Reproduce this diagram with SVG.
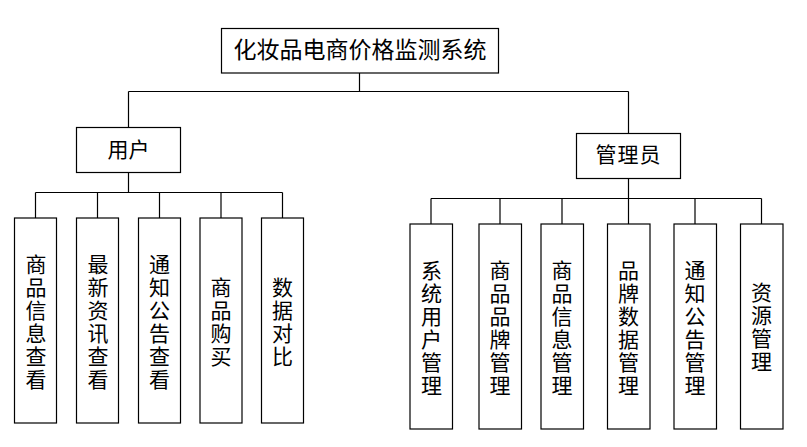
<svg xmlns="http://www.w3.org/2000/svg" width="807" height="447" viewBox="0 0 807 447">
<style>
.box{fill:#fff;stroke:#000;stroke-width:1.2}
.ln{fill:none;stroke:#000;stroke-width:1.2}
.t{font-family:"Noto Sans CJK SC","Noto Sans",sans-serif;fill:#000;text-anchor:middle}
.v{font-size:21px;writing-mode:vertical-rl;letter-spacing:2px}
</style>
<rect width="807" height="447" fill="#fff"/>
<g id="connectors">
<path class="ln" d="M359.5 73V91.5M128.5 91.5H628.5M128.5 91.5V127.5M628.5 91.5V133.5"/>
<path class="ln" d="M128.5 172.5V192.5M35.5 192.5H282.5M35.5 192.5V218M97.5 192.5V218M159.5 192.5V218M221 192.5V218M282.5 192.5V218"/>
<path class="ln" d="M628.5 178.5V198.5M431 198.5H761.5M431 198.5V224M500 198.5V224M562 198.5V224M628.5 198.5V224M695 198.5V224M761.5 198.5V224"/>
</g>
<g id="root"><rect class="box" x="221.5" y="28.5" width="277" height="44.5"/><text class="t" x="360" y="57.5" font-size="23">化妆品电商价格监测系统</text></g>
<g id="user"><rect class="box" x="76.5" y="127.5" width="104" height="45"/><text class="t" x="128.5" y="157" font-size="21">用户</text></g>
<g id="admin"><rect class="box" x="576.5" y="133.5" width="104" height="45"/><text class="t" x="628.5" y="162" font-size="21" letter-spacing="1">管理员</text></g>
<g id="u1"><rect class="box" x="14.5" y="218" width="42" height="205"/><text class="t v" x="36" y="322.5">商品信息查看</text></g>
<g id="u2"><rect class="box" x="76.5" y="218" width="42" height="205"/><text class="t v" x="98" y="322.5">最新资讯查看</text></g>
<g id="u3"><rect class="box" x="138.5" y="218" width="42" height="205"/><text class="t v" x="159.5" y="322.5">通知公告查看</text></g>
<g id="u4"><rect class="box" x="200" y="218" width="42" height="205"/><text class="t v" x="221" y="322.5">商品购买</text></g>
<g id="u5"><rect class="box" x="261.5" y="218" width="42" height="205"/><text class="t v" x="282.5" y="322.5">数据对比</text></g>
<g id="a1"><rect class="box" x="410" y="224" width="42.5" height="205"/><text class="t v" x="431.5" y="328.5">系统用户管理</text></g>
<g id="a2"><rect class="box" x="479" y="224" width="42.5" height="205"/><text class="t v" x="500" y="328.5">商品品牌管理</text></g>
<g id="a3"><rect class="box" x="541" y="224" width="42.5" height="205"/><text class="t v" x="562" y="328.5">商品信息管理</text></g>
<g id="a4"><rect class="box" x="607.5" y="224" width="42.5" height="205"/><text class="t v" x="628.5" y="328.5">品牌数据管理</text></g>
<g id="a5"><rect class="box" x="674" y="224" width="42.5" height="205"/><text class="t v" x="695" y="328.5">通知公告管理</text></g>
<g id="a6"><rect class="box" x="740.5" y="224" width="42.5" height="205"/><text class="t v" x="761.5" y="327.5">资源管理</text></g>
</svg>
